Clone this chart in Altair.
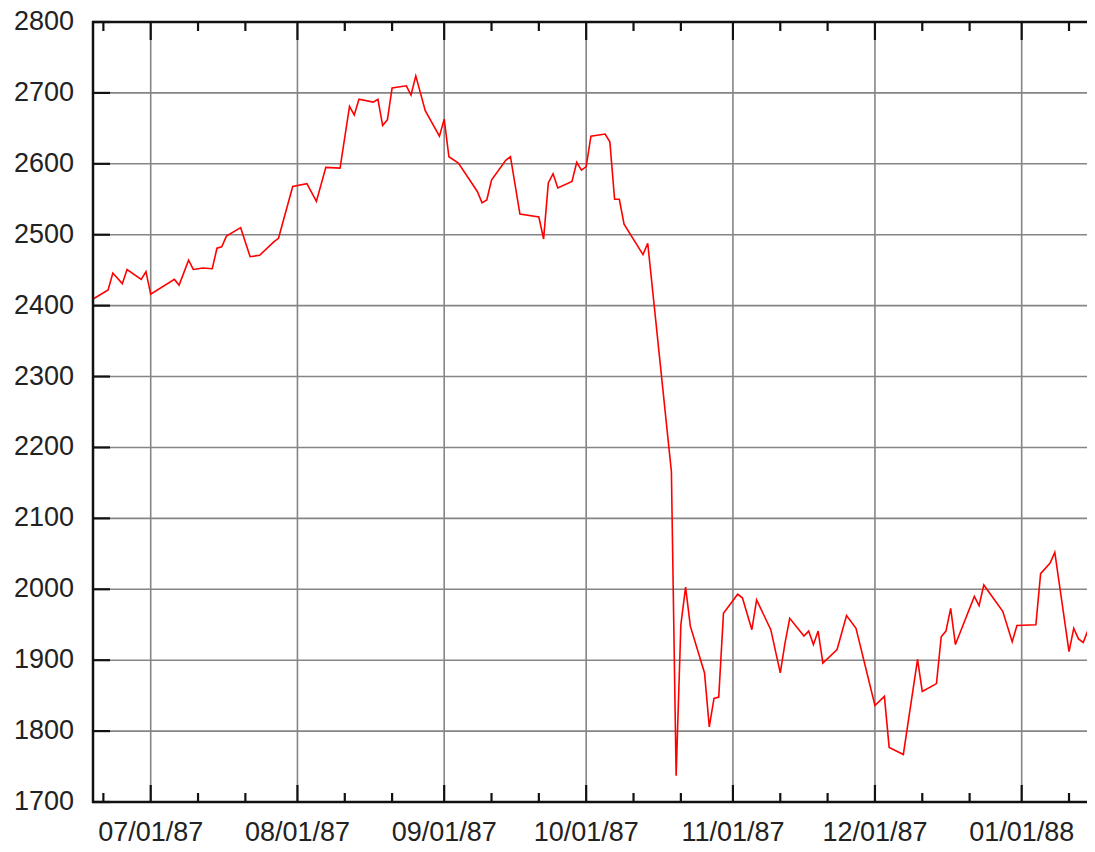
import altair as alt
import pandas as pd

W, H = 994, 780

# Dow Jones daily closes
dates = [
    "1987-06-19", "1987-06-22", "1987-06-23", "1987-06-25", "1987-06-26", "1987-06-29", "1987-06-30",
    "1987-07-01", "1987-07-06", "1987-07-07", "1987-07-09", "1987-07-10", "1987-07-12", "1987-07-14",
    "1987-07-15", "1987-07-16", "1987-07-17", "1987-07-20", "1987-07-22", "1987-07-24", "1987-07-27",
    "1987-07-28", "1987-07-31",
    "1987-08-03", "1987-08-05", "1987-08-07", "1987-08-10", "1987-08-12", "1987-08-13", "1987-08-14",
    "1987-08-17", "1987-08-18", "1987-08-19", "1987-08-20", "1987-08-21", "1987-08-24", "1987-08-25",
    "1987-08-26", "1987-08-28", "1987-08-31",
    "1987-09-01", "1987-09-02", "1987-09-04", "1987-09-08", "1987-09-09", "1987-09-10", "1987-09-11",
    "1987-09-14", "1987-09-15", "1987-09-17", "1987-09-21", "1987-09-22", "1987-09-23", "1987-09-24",
    "1987-09-25", "1987-09-28", "1987-09-29", "1987-09-30",
    "1987-10-01", "1987-10-02", "1987-10-05", "1987-10-06", "1987-10-07", "1987-10-08", "1987-10-09",
    "1987-10-13", "1987-10-14", "1987-10-19", "1987-10-20", "1987-10-21", "1987-10-22", "1987-10-23",
    "1987-10-26", "1987-10-27", "1987-10-28", "1987-10-29", "1987-10-30",
    "1987-11-02", "1987-11-03", "1987-11-05", "1987-11-06", "1987-11-09", "1987-11-11", "1987-11-12",
    "1987-11-13", "1987-11-16", "1987-11-17", "1987-11-18", "1987-11-19", "1987-11-20", "1987-11-23",
    "1987-11-25", "1987-11-27",
    "1987-12-01", "1987-12-03", "1987-12-04", "1987-12-07", "1987-12-10", "1987-12-11", "1987-12-14",
    "1987-12-15", "1987-12-16", "1987-12-17", "1987-12-18", "1987-12-22", "1987-12-23", "1987-12-24",
    "1987-12-28", "1987-12-30", "1987-12-31",
    "1988-01-04", "1988-01-05", "1988-01-07", "1988-01-08", "1988-01-11", "1988-01-12", "1988-01-13",
    "1988-01-14", "1988-01-15", "1988-01-16",
]
values = [
    2410, 2422, 2446, 2431, 2451, 2437, 2448,
    2416, 2437, 2429, 2464, 2451, 2453, 2452, 2481, 2483, 2498, 2510, 2469, 2471, 2490, 2495, 2568,
    2572, 2547, 2595, 2594, 2681, 2669, 2691, 2687, 2691, 2654, 2662, 2707, 2710, 2697, 2724, 2675, 2639,
    2663, 2610, 2601, 2561, 2545, 2549, 2577, 2605, 2610, 2529, 2525, 2494, 2573, 2586, 2566, 2575, 2602, 2591,
    2596, 2639, 2642, 2631, 2550, 2550, 2515, 2472, 2488, 2166, 1737, 1950, 2003, 1948, 1882, 1806, 1846,
    1848, 1966,
    1993, 1988, 1943, 1985, 1943, 1882, 1924, 1959, 1934, 1941, 1922, 1941, 1896, 1915, 1963, 1945,
    1836, 1849, 1777, 1767, 1901, 1856, 1867, 1933, 1941, 1973, 1922, 1990, 1977, 2006, 1969, 1926, 1949,
    1950, 2022, 2037, 2052, 1912, 1945, 1930, 1925, 1942, 1948,
]

month_starts = ["1987-07-01", "1987-08-01", "1987-09-01", "1987-10-01",
                "1987-11-01", "1987-12-01", "1988-01-01"]
month_labels = ["07/01/87", "08/01/87", "09/01/87", "10/01/87",
                "11/01/87", "12/01/87", "01/01/88"]
minor_ticks = ["1987-06-21", "1987-07-11", "1987-07-21", "1987-08-11", "1987-08-21",
               "1987-09-11", "1987-09-21", "1987-10-11", "1987-10-21", "1987-11-11",
               "1987-11-21", "1987-12-11", "1987-12-21", "1988-01-11"]
y_ticks = [1700, 1800, 1900, 2000, 2100, 2200, 2300, 2400, 2500, 2600, 2700, 2800]


def dt(s, hours=0, minutes=0):
    y, m, d = (int(p) for p in s.split("-"))
    return alt.DateTime(year=y, month=m, date=d, hours=hours, minutes=minutes)


def local(ds):
    return [d + "T00:00:00" for d in ds]


line_df = pd.DataFrame({"date": local(dates), "value": values})
major_df = pd.DataFrame({"date": local(month_starts), "label": month_labels})
minor_df = pd.DataFrame({"date": local(minor_ticks)})
ytick_df = pd.DataFrame({"value": y_ticks})
one_df = pd.DataFrame({"k": [0]})

FONT = "Liberation Sans"
TXT = "#222222"
INK = "#111111"
GRID = "#858585"

xscale = alt.Scale(domain=[dt("1987-06-18", 19, 26), dt("1988-01-14", 19, 12)])
yscale = alt.Scale(domain=[1700, 2800], nice=False, zero=False)

xe = alt.X("date:T", scale=xscale, axis=None)
ye = alt.Y("value:Q", scale=yscale, axis=None)

# grid
vgrid = alt.Chart(major_df).mark_rule(color=GRID, strokeWidth=1.6).encode(
    x=xe, y=alt.value(0), y2=alt.value(H))
hgrid = alt.Chart(ytick_df).mark_rule(color=GRID, strokeWidth=1.6).encode(
    y=ye, x=alt.value(0), x2=alt.value(W))

# data
line = alt.Chart(line_df).mark_line(color="#ff0000", strokeWidth=1.6, clip=True).encode(
    x=xe, y=ye)

# inward ticks (major at month starts, minor in between)
major_bottom = alt.Chart(major_df).mark_rule(color=INK, strokeWidth=2.2).encode(
    x=xe, y=alt.value(H - 17), y2=alt.value(H))
major_top = alt.Chart(major_df).mark_rule(color=INK, strokeWidth=2.2).encode(
    x=xe, y=alt.value(0), y2=alt.value(18))
minor_bottom = alt.Chart(minor_df).mark_rule(color=INK, strokeWidth=2.2).encode(
    x=xe, y=alt.value(H - 9), y2=alt.value(H))
minor_top = alt.Chart(minor_df).mark_rule(color=INK, strokeWidth=2.2).encode(
    x=xe, y=alt.value(0), y2=alt.value(9))
y_left = alt.Chart(ytick_df).mark_rule(color=INK, strokeWidth=2.2).encode(
    y=ye, x=alt.value(0), x2=alt.value(17))

# frame
left_border = alt.Chart(one_df).mark_rule(color=INK, strokeWidth=2.5).encode(
    x=alt.value(0), y=alt.value(-1), y2=alt.value(H + 1))
bottom_border = alt.Chart(one_df).mark_rule(color=INK, strokeWidth=2.5).encode(
    y=alt.value(H), x=alt.value(-1), x2=alt.value(W))
top_border = alt.Chart(one_df).mark_rule(color=INK, strokeWidth=2.5).encode(
    y=alt.value(0), x=alt.value(-1), x2=alt.value(W))

# tick labels
x_text = alt.Chart(major_df).mark_text(
    font=FONT, fontSize=27, color=TXT, align="center", baseline="alphabetic"
).encode(x=xe, y=alt.value(H + 39), text="label:N")
y_text = alt.Chart(ytick_df).mark_text(
    font=FONT, fontSize=27, color=TXT, align="right", baseline="middle"
).encode(y=ye, x=alt.value(-19), text=alt.Text("value:Q", format="d"))

chart = alt.layer(
    vgrid, hgrid, line, major_bottom, major_top, minor_bottom, minor_top, y_left,
    left_border, bottom_border, top_border, x_text, y_text
).properties(
    width=W, height=H,
    autosize=alt.AutoSizeParams(type="none"),
    padding={"left": 85, "top": 14, "right": 0, "bottom": 42},
    background="white",
).configure_view(stroke=None)

chart.save("out.html", embed_options={"renderer": "svg", "actions": False})
